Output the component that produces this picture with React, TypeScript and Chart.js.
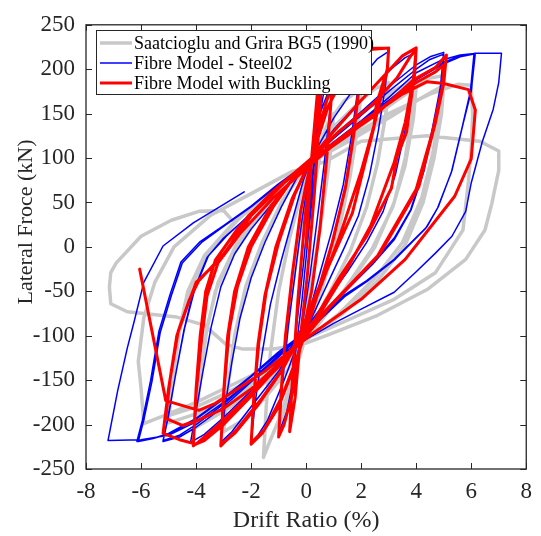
import React, { useEffect, useRef } from "react";
import { Chart, registerables } from "chart.js";

Chart.register(...registerables);

// ---------- data ----------
const driftTicks = [-8, -6, -4, -2, 0, 2, 4, 6, 8];
const forceTicks = [-250, -200, -150, -100, -50, 0, 50, 100, 150, 200, 250];
const seriesLabels = [
  "Saatcioglu and Grira BG5 (1990)",
  "Fibre Model - Steel02",
  "Fibre Model with Buckling",
];

// Experimental curve [drift %, force kN]
const testCurve: [number, number][] = [
  [0, 0], [0.3, 70], [0.6, 115], [1.0, 150],
  [0.9, 110], [0.6, 40], [0.2, -40], [-0.2, -100], [-0.5, -150], [-0.8, -185], [-1.0, -200],
  [-0.85, -140], [-0.6, -70], [-0.3, 0], [0.0, 60], [0.3, 100], [0.8, 140], [1.4, 165], [2.0, 178],
  [1.9, 140], [1.6, 80], [1.2, 20], [0.6, -45], [0.0, -100], [-0.5, -150], [-1.0, -195], [-1.4, -225], [-1.55, -237],
  [-1.45, -180], [-1.3, -120], [-1.0, -50], [-0.6, 10], [-0.1, 70], [0.3, 100], [1.0, 135], [2.0, 165], [2.5, 178], [3.0, 185],
  [2.9, 150], [2.6, 95], [2.2, 45], [1.6, -5], [0.8, -55], [0.0, -100], [-0.7, -140], [-1.5, -170], [-2.3, -195], [-3.0, -208],
  [-2.85, -160], [-2.6, -100], [-2.2, -45], [-1.6, 5], [-0.9, 50], [0.2, 100], [1.0, 125], [2.0, 150], [3.0, 172], [4.0, 190],
  [3.9, 155], [3.6, 100], [3.2, 50], [2.5, 0], [1.5, -45], [0.5, -85], [0.0, -105], [-1.0, -140], [-2.0, -165], [-3.0, -185], [-4.0, -203],
  [-3.88, -155], [-3.65, -100], [-3.3, -50], [-2.7, -10], [-1.8, 30], [-0.6, 75], [0.3, 98], [1.3, 120], [2.3, 143], [3.3, 165], [4.0, 180],
  [3.9, 145], [3.6, 92], [3.15, 45], [2.4, -2], [1.4, -48], [0.4, -88], [-0.1, -106], [-1.0, -135], [-2.0, -158], [-3.0, -176], [-4.0, -192],
  [-3.85, -150], [-3.6, -90], [-3.2, -40], [-2.5, 5], [-1.5, 45], [-0.3, 85], [0.3, 100], [1.5, 125], [2.5, 150], [3.5, 172], [4.5, 190], [5.0, 193],
  [4.9, 160], [4.6, 105], [4.2, 55], [3.5, 5], [2.5, -35], [1.2, -75], [0.0, -105], [-1.0, -135], [-2.0, -155], [-3.0, -172], [-4.0, -188], [-5.0, -198],
  [-4.88, -155], [-4.65, -100], [-4.3, -50], [-3.7, -10], [-2.7, 25], [-1.4, 60], [0.2, 96], [1.5, 118], [3.0, 145], [4.2, 168], [5.0, 182],
  [4.92, 150], [4.65, 100], [4.25, 50], [3.6, 2], [2.6, -38], [1.3, -76], [0.0, -104], [-1.0, -130], [-2.0, -150], [-3.0, -166], [-4.0, -180], [-5.0, -190],
  [-4.85, -150], [-4.6, -95], [-4.2, -45], [-3.5, -5], [-2.5, 30], [-1.2, 65], [0.2, 98], [1.5, 122], [3.0, 150], [4.5, 172], [5.5, 183], [6.0, 182],
  [6.05, 150], [6.0, 110], [5.9, 74], [5.7, 19], [5.2, -5], [4.7, -29], [3.2, -59], [1.4, -84], [0.0, -103], [-1.0, -125], [-2.0, -145], [-3.0, -160], [-4.0, -175], [-5.0, -188], [-5.9, -199],
  [-6.0, -159], [-6.1, -129], [-5.9, -80], [-5.5, -40], [-4.8, 0], [-3.5, 35], [-2.0, 60], [-0.5, 85], [0.7, 96], [2.0, 119], [4.4, 125], [6.3, 119], [7.0, 108],
  [7.0, 86], [6.75, 49], [6.5, 19], [5.8, -14], [4.4, -48], [2.6, -77], [0.8, -99], [-0.15, -110], [-1.2, -115], [-2.3, -115], [-2.9, -110], [-3.7, -88], [-4.7, -79], [-6.5, -73], [-7.1, -64],
  [-7.15, -45], [-7.1, -29], [-6.9, -18], [-6.0, 12], [-4.9, 30], [-3.9, 40], [-3.0, 41], [-2.6, 27],
];

// Fibre model, Steel02 [drift %, force kN]
const steel02Curve: [number, number][] = [
  [0, 0], [0.25, 80], [0.5, 150],
  [0.35, 90], [0.1, 20], [-0.15, -60], [-0.35, -110], [-0.5, -150],
  [-0.35, -90], [-0.1, -20], [0.15, 60], [0.4, 130], [0.7, 185], [1.0, 212],
  [0.87, 155], [0.65, 92], [0.4, 30], [0.15, -30], [-0.15, -90], [-0.4, -140], [-0.7, -185], [-1.0, -210],
  [-0.85, -150], [-0.65, -90], [-0.4, -30], [-0.15, 30], [0.15, 90], [0.5, 150], [1.0, 190], [1.5, 210], [2.0, 220],
  [1.88, 178], [1.65, 125], [1.35, 70], [0.95, 20], [0.5, -30], [0.1, -75], [-0.2, -100], [-0.8, -150], [-1.4, -195], [-1.75, -212], [-2.0, -220],
  [-1.85, -175], [-1.6, -120], [-1.3, -65], [-0.9, -15], [-0.5, 30], [-0.1, 75], [0.2, 100], [1.0, 145], [2.0, 190], [2.6, 212], [3.0, 220],
  [2.88, 180], [2.62, 130], [2.3, 80], [1.9, 35], [1.4, 0], [0.8, -40], [0.2, -80], [-0.2, -100], [-1.0, -140], [-2.0, -180], [-2.7, -208], [-3.1, -220],
  [-2.95, -180], [-2.7, -130], [-2.4, -80], [-2.0, -35], [-1.5, 5], [-0.9, 45], [-0.3, 80], [0.2, 100], [1.0, 132], [2.0, 165], [3.0, 198], [3.6, 213], [4.0, 219],
  [3.88, 180], [3.6, 132], [3.25, 82], [2.8, 40], [2.2, 5], [1.5, -28], [0.7, -62], [-0.2, -100], [-1.0, -130], [-2.0, -162], [-3.0, -192], [-3.7, -211], [-4.2, -220],
  [-4.0, -185], [-3.75, -140], [-3.45, -90], [-3.1, -45], [-2.6, -8], [-2.0, 20], [-1.2, 50], [-0.4, 80], [0.2, 100], [1.0, 125], [2.0, 152], [3.0, 180], [4.0, 205], [4.5, 214], [5.0, 219],
  [4.88, 180], [4.6, 135], [4.25, 85], [3.8, 42], [3.2, 10], [2.4, -18], [1.2, -55], [-0.2, -100], [-1.0, -124], [-2.0, -152], [-3.0, -180], [-4.0, -203], [-4.6, -214], [-5.2, -219],
  [-5.0, -190], [-4.75, -145], [-4.45, -95], [-4.1, -50], [-3.6, -12], [-3.0, 10], [-2.2, 32], [-1.2, 62], [0.2, 100], [1.0, 122], [2.0, 148], [3.0, 175], [4.0, 200], [4.5, 211], [5.0, 217],
  [4.9, 180], [4.62, 135], [4.28, 85], [3.82, 42], [3.2, 8], [2.4, -20], [1.2, -57], [-0.2, -100], [-1.0, -122], [-2.0, -150], [-3.0, -177], [-4.0, -200], [-4.6, -212], [-5.2, -218],
  [-5.0, -188], [-4.72, -140], [-4.42, -92], [-4.05, -48], [-3.55, -10], [-2.9, 12], [-2.1, 35], [-1.1, 64], [0.3, 100], [1.0, 118], [2.0, 142], [3.0, 165], [4.0, 190], [5.0, 208], [5.6, 215], [6.15, 218],
  [6.0, 175], [5.7, 138], [5.3, 86], [4.8, 45], [4.4, 23], [3.2, -14], [2.2, -38], [1.4, -54], [0.0, -95], [-1.0, -118], [-2.0, -145], [-3.0, -170], [-4.0, -193], [-5.0, -210], [-5.6, -216], [-6.1, -219],
  [-5.9, -195], [-5.6, -151], [-5.3, -96], [-4.9, -55], [-4.5, -18], [-3.8, 5], [-3.0, 23], [-2.0, 45], [-1.0, 70], [0.3, 100], [1.0, 116], [2.0, 140], [3.0, 163], [4.0, 188], [5.0, 206], [5.6, 214], [6.1, 217],
  [5.97, 175], [5.68, 136], [5.28, 84], [4.78, 44], [4.35, 21], [3.2, -15], [2.2, -39], [1.4, -56], [0.0, -97], [-1.0, -120], [-2.0, -146], [-3.0, -171], [-4.0, -194], [-5.0, -211], [-5.6, -216], [-6.15, -219],
  [-5.95, -195], [-5.65, -150], [-5.35, -95], [-4.95, -54], [-4.55, -17], [-3.85, 6], [-3.0, 24], [-2.0, 46], [-1.0, 71], [0.3, 100], [1.0, 118], [2.0, 142], [3.0, 168], [4.0, 196], [4.9, 210], [5.6, 216], [6.2, 218], [7.1, 218],
  [7.0, 185], [6.8, 155], [6.4, 118], [6.0, 72], [5.8, 40], [5.3, 12], [4.7, -7], [4.0, -28], [3.2, -51], [2.0, -70], [1.0, -86], [0.0, -104], [-1.0, -122], [-2.0, -150], [-3.0, -175], [-4.0, -197], [-5.0, -212], [-6.0, -217], [-7.2, -218],
  [-6.85, -162], [-6.5, -114], [-6.25, -84], [-5.9, -40], [-5.2, 1], [-4.1, 27], [-2.25, 62],
];

// Fibre model with buckling [drift %, force kN]
const bucklingCurve: [number, number][] = [
  [0, 0], [0.2, 100], [0.4, 170], [0.6, 210],
  [0.5, 150], [0.3, 60], [0.05, -30], [-0.2, -100], [-0.4, -170], [-0.6, -208],
  [-0.5, -150], [-0.3, -60], [-0.05, 30], [0.2, 100], [0.5, 170], [0.8, 210], [1.0, 218],
  [0.92, 170], [0.75, 100], [0.5, 20], [0.2, -50], [-0.2, -110], [-0.5, -165], [-0.8, -200], [-1.0, -214],
  [-0.9, -160], [-0.75, -100], [-0.5, -30], [-0.2, 40], [0.2, 100], [0.5, 175], [0.8, 215], [1.2, 222], [2.0, 223],
  [1.95, 190], [1.75, 130], [1.45, 70], [1.0, 10], [0.5, -45], [0.0, -95], [-0.4, -130], [-0.9, -170], [-1.5, -205], [-2.0, -221],
  [-1.9, -170], [-1.75, -110], [-1.5, -55], [-1.1, 0], [-0.5, 55], [0.2, 100], [0.7, 160], [1.2, 205], [1.7, 222], [2.0, 223],
  [1.94, 185], [1.72, 125], [1.42, 65], [0.95, 5], [0.45, -48], [-0.05, -98], [-0.5, -140], [-1.0, -180], [-1.6, -210], [-2.0, -222],
  [-1.9, -168], [-1.72, -108], [-1.45, -50], [-1.0, 5], [-0.4, 60], [0.2, 100], [0.8, 158], [1.5, 200], [2.2, 222], [3.0, 224],
  [2.95, 200], [2.55, 160], [2.46, 134], [1.68, 38], [0.43, -48], [-0.27, -100], [-0.8, -135], [-1.6, -170], [-2.5, -205], [-3.1, -224],
  [-3.0, -165], [-2.85, -100], [-2.6, -50], [-2.1, 0], [-1.3, 45], [-0.4, 80], [0.2, 100], [0.5, 170], [0.9, 215], [1.5, 223], [3.0, 224],
  [2.95, 198], [2.5, 140], [2.0, 85], [1.2, 10], [0.4, -55], [-0.2, -100], [-0.9, -140], [-1.8, -180], [-2.6, -210], [-3.1, -223],
  [-2.98, -160], [-2.8, -95], [-2.5, -45], [-2.0, 0], [-1.2, 45], [-0.3, 85], [0.2, 100], [1.0, 130], [2.0, 165], [2.9, 195], [3.5, 215], [4.0, 224],
  [3.95, 196], [3.65, 129], [3.3, 101], [3.1, 66], [2.2, 12], [1.2, -35], [0.68, -62], [0.0, -100], [-0.8, -128], [-1.8, -160], [-2.8, -192], [-3.6, -213], [-4.1, -224],
  [-4.0, -160], [-3.85, -100], [-3.65, -50], [-3.3, -15], [-2.5, 20], [-1.3, 60], [0.2, 100], [1.2, 130], [2.4, 160], [3.3, 190], [3.8, 215], [4.0, 222],
  [3.9, 190], [3.6, 140], [3.2, 95], [2.35, 24], [1.4, -30], [0.6, -70], [-0.1, -100], [-0.9, -130], [-2.0, -168], [-3.0, -200], [-3.7, -218], [-4.1, -223],
  [-4.0, -165], [-3.8, -105], [-3.6, -55], [-3.2, -18], [-2.4, 15], [-1.2, 55], [0.1, 91], [1.2, 120], [2.46, 147], [3.9, 188], [4.7, 202], [5.1, 216],
  [5.0, 184], [4.7, 140], [4.1, 68], [2.7, -7], [0.8, -70], [0.0, -100], [-1.0, -135], [-2.0, -165], [-3.0, -195], [-4.0, -222], [-4.6, -217], [-5.2, -210],
  [-5.0, -160], [-4.7, -100], [-4.3, -65], [-4.0, -40], [-3.0, -10], [-2.1, 35], [-0.9, 71], [0.2, 97], [1.5, 125], [2.9, 160], [4.0, 185], [4.7, 197], [5.0, 205],
  [4.95, 180], [4.6, 130], [4.0, 65], [2.6, -10], [0.7, -72], [-0.1, -100], [-1.0, -132], [-2.0, -160], [-3.0, -182], [-4.0, -196], [-4.5, -201], [-5.1, -193],
  [-4.95, -150], [-4.65, -95], [-4.25, -60], [-3.9, -38], [-3.0, -8], [-2.0, 35], [-0.8, 72], [0.2, 98], [2.0, 140], [3.5, 172], [4.4, 186], [5.0, 184], [5.9, 177], [6.15, 154],
  [6.0, 99], [5.4, 57], [3.6, -14], [2.0, -59], [0.3, -96], [-0.5, -115], [-1.5, -140], [-2.5, -160], [-3.3, -176], [-3.9, -184], [-5.1, -173], [-6.05, -25],
];

// ---------- styling ----------
const SERIF = '"Liberation Serif", "Times New Roman", serif';
const AXIS_COLOR = "#262626";
const seriesColors = ["#c8c8c8", "#0000ff", "#ff0000"];
const seriesWidths = [3.5, 1.5, 3];

const overlayPlugin = {
  id: "overlay",
  afterDatasetsDraw(chart: any) {
    const { ctx, chartArea: a, scales } = chart;
    ctx.save();
    // legend box
    const lx = 96, ly = 30, lw = 275, lh = 64;
    ctx.fillStyle = "#ffffff";
    ctx.fillRect(lx, ly, lw, lh);
    ctx.strokeStyle = AXIS_COLOR;
    ctx.lineWidth = 1;
    ctx.strokeRect(lx + 0.5, ly + 0.5, lw, lh);
    ctx.font = `18px ${SERIF}`;
    ctx.textBaseline = "middle";
    ctx.textAlign = "left";
    seriesLabels.forEach((label, i) => {
      const yy = ly + 13 + i * 20;
      ctx.strokeStyle = seriesColors[i];
      ctx.lineWidth = seriesWidths[i];
      ctx.beginPath();
      ctx.moveTo(lx + 4, yy);
      ctx.lineTo(lx + 36, yy);
      ctx.stroke();
      ctx.fillStyle = "#000000";
      ctx.fillText(label, lx + 38, yy + 1);
    });
    // frame
    ctx.strokeStyle = AXIS_COLOR;
    ctx.lineWidth = 1.3;
    ctx.strokeRect(a.left, a.top, a.right - a.left, a.bottom - a.top);
    // inward ticks
    ctx.lineWidth = 1;
    ctx.beginPath();
    driftTicks.forEach((v) => {
      const x = Math.round(scales.x.getPixelForValue(v)) + 0.5;
      ctx.moveTo(x, a.bottom);
      ctx.lineTo(x, a.bottom - 6);
      ctx.moveTo(x, a.top);
      ctx.lineTo(x, a.top + 6);
    });
    forceTicks.forEach((v) => {
      const y = Math.round(scales.y.getPixelForValue(v)) + 0.5;
      ctx.moveTo(a.left, y);
      ctx.lineTo(a.left + 6, y);
      ctx.moveTo(a.right, y);
      ctx.lineTo(a.right - 6, y);
    });
    ctx.stroke();
    // axis titles
    ctx.fillStyle = AXIS_COLOR;
    ctx.textAlign = "center";
    ctx.textBaseline = "middle";
    ctx.font = `24px ${SERIF}`;
    ctx.fillText("Drift Ratio (%)", (a.left + a.right) / 2, 521);
    ctx.save();
    ctx.translate(26, 222);
    ctx.rotate(-Math.PI / 2);
    ctx.font = `22px ${SERIF}`;
    ctx.fillText("Lateral Froce (kN)", 0, 0);
    ctx.restore();
    ctx.restore();
  },
};

export default function App() {
  const ref = useRef<HTMLCanvasElement | null>(null);
  useEffect(() => {
    if (!ref.current) return;
    const toPts = (arr: [number, number][]) => arr.map(([x, y]) => ({ x, y }));
    const curves = [testCurve, steel02Curve, bucklingCurve];
    const chart = new Chart(ref.current, {
      type: "scatter",
      data: {
        datasets: curves.map((c, i) => ({
          label: seriesLabels[i],
          data: toPts(c),
          showLine: true,
          borderColor: seriesColors[i],
          backgroundColor: seriesColors[i],
          borderWidth: seriesWidths[i],
          borderJoinStyle: "round" as const,
          borderCapStyle: "round" as const,
          pointRadius: 0,
          pointHoverRadius: 0,
          fill: false,
          tension: 0,
          order: 3 - i,
        })),
      },
      options: {
        responsive: false,
        animation: false,
        events: [],
        layout: { padding: { left: 0, right: 7, top: 20, bottom: 0 } },
        plugins: { legend: { display: false }, tooltip: { enabled: false } },
        scales: {
          x: {
            type: "linear",
            min: -8,
            max: 8,
            afterBuildTicks: (s: any) => {
              s.ticks = driftTicks.map((v) => ({ value: v }));
            },
            afterFit: (s: any) => {
              s.height = 67;
            },
            grid: { display: false, drawTicks: false },
            border: { display: false },
            ticks: {
              autoSkip: false,
              maxRotation: 0,
              padding: 9,
              color: AXIS_COLOR,
              font: { family: SERIF, size: 23 },
              callback: (v: any) => String(v),
            },
          },
          y: {
            type: "linear",
            min: -250,
            max: 250,
            afterBuildTicks: (s: any) => {
              s.ticks = forceTicks.map((v) => ({ value: v }));
            },
            afterFit: (s: any) => {
              s.width = 86;
            },
            grid: { display: false, drawTicks: false },
            border: { display: false },
            ticks: {
              autoSkip: false,
              padding: 11,
              color: AXIS_COLOR,
              font: { family: SERIF, size: 23 },
              callback: (v: any) => String(v),
            },
          },
        },
      },
      plugins: [overlayPlugin],
    });
    return () => chart.destroy();
  }, []);
  return (
    <div style={{ position: "fixed", left: 0, top: 0, width: 541, height: 536, background: "#fff" }}>
      <canvas ref={ref} width={541} height={536} style={{ width: 541, height: 536, display: "block" }} />
    </div>
  );
}
